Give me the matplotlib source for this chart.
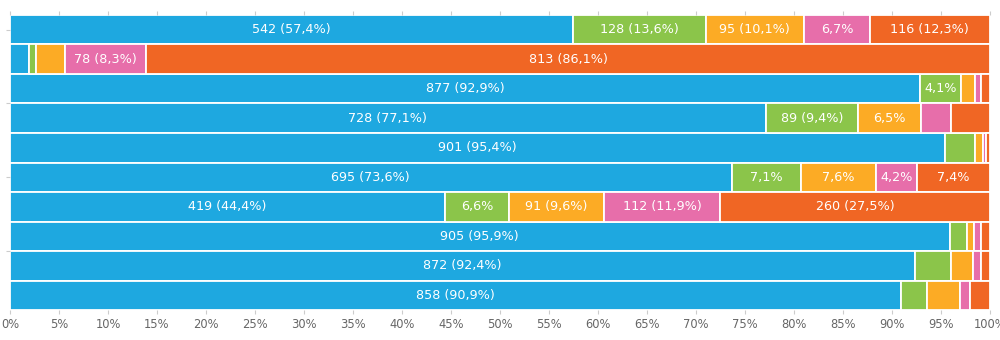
import numpy as np
import matplotlib
matplotlib.use("Agg")
import matplotlib.pyplot as plt

# answer counts per row (each row sums to 944)
blue = [542, 18, 877, 728, 901, 695, 419, 905, 872, 858]
green = [128, 7, 39, 89, 29, 67, 62, 17, 34, 25]
orange = [95, 28, 14, 61, 7, 72, 91, 7, 22, 32]
pink = [63, 78, 5, 28, 3, 40, 112, 6, 7, 10]
red = [116, 813, 9, 38, 4, 70, 260, 9, 9, 19]

series = [blue, green, orange, pink, red]
colors = ['#1EA8E0', '#8BC54A', '#FCAB25', '#E76EAA', '#F06624']

counts = np.array(series, dtype=float)
totals = counts.sum(axis=0)
pcts = counts / totals * 100

fig = plt.figure(figsize=(10, 3.4), dpi=100)
ax = fig.add_axes([0.01, 0.0882, 0.98, 0.8677])

y = np.arange(len(blue))
left = np.zeros(len(blue))
for k, col in enumerate(colors):
    ax.barh(y, pcts[k], left=left, height=1.0, color=col,
            edgecolor='white', linewidth=1.3)
    for i in y:
        p = round(pcts[k][i], 1)
        if p >= 8:
            txt = f'{int(counts[k][i])} ({p:.1f}%)'.replace('.', ',')
        elif p >= 4.1:
            txt = f'{p:.1f}%'.replace('.', ',')
        else:
            txt = ''
        if txt:
            ax.text(left[i] + pcts[k][i] / 2, i, txt, ha='center', va='center',
                    color='white', fontsize=9.2)
    left += pcts[k]

ax.set_xlim(0, 100)
ax.set_ylim(9.5, -0.5)
ax.set_xticks(np.arange(0, 101, 5))
ax.set_xticklabels([f'{v}%' for v in range(0, 101, 5)])
ax.set_yticks([0, 2.5, 5, 7.5])
ax.set_yticklabels([])
ax.tick_params(axis='x', top=True, bottom=True, length=3, width=0.8,
               color='#cccccc', labelsize=8.3, labelcolor='#666666', pad=3)
ax.tick_params(axis='y', length=3, width=0.8, color='#cccccc', pad=2)
for s in ax.spines.values():
    s.set_visible(False)

fig.savefig('out.png', dpi=100)
